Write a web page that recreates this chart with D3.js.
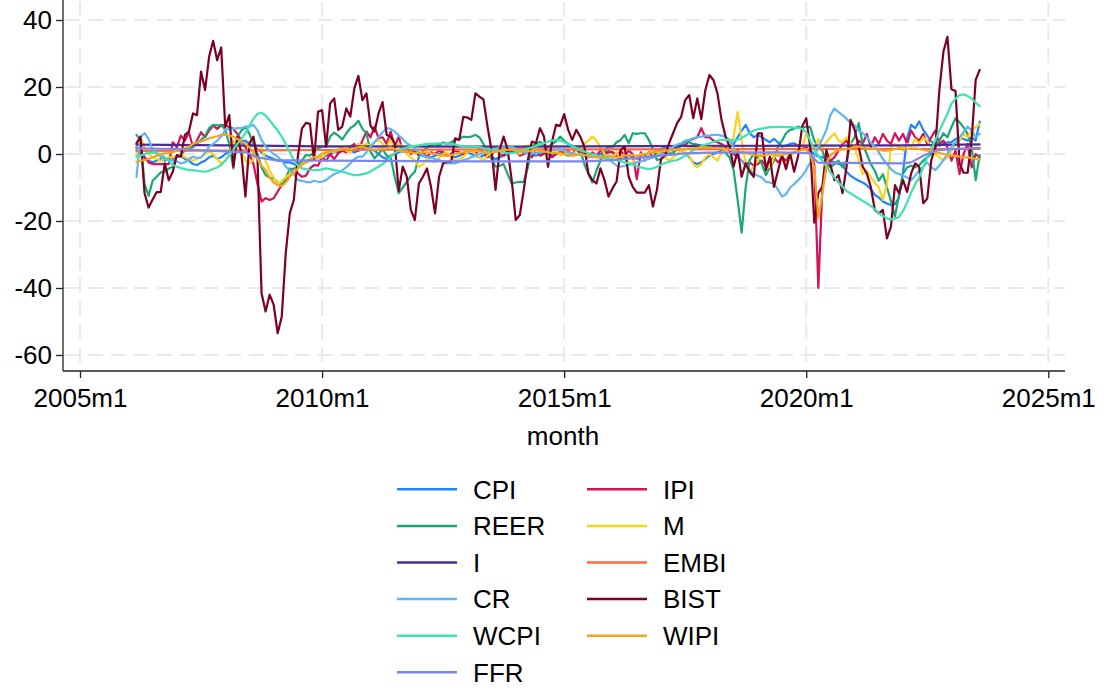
<!DOCTYPE html>
<html>
<head>
<meta charset="utf-8">
<script src="https://cdn.jsdelivr.net/npm/d3@7"></script>
<style>
  html, body { margin: 0; padding: 0; background: #fff; }
  svg { display: block; font-family: "Liberation Sans", Arial, Helvetica, sans-serif; }
</style>
</head>
<body>
<svg id="chart" width="1104" height="689"></svg>
<script>
// Monthly series, 2006m3 .. 2023m8 (one row per year)
const firstMonth = "2006m3";

const cpi = [
  1.2,0,-1,-2,-2.5,-2,-1.5,-2,-1,-1.5,
  -1,-0.5,-1.5,-2,-3,-3.3,-2.5,-2,-1,-0.5,-1.5,-1,
  0,0.5,2,3,3.5,4,3,2.5,1.5,0.5,-0.5,-1,
  -1.5,-2,-2,-2.5,-2.5,-3,-3.5,-3,-2.5,-2,-1.5,-1,
  -1,-0.5,0,0.5,0.5,1,1.5,1,0.5,1,1.5,2,
  1.5,1,0,-1,-1.5,-0.5,0,0.5,1,1.5,1,0.5,
  0,-0.5,-1,-1,-0.5,0,0.5,0,-0.5,-1,-0.5,0,
  0.5,0,-0.5,-1,-0.5,0,-1,-1.5,-1,-0.5,0,0.5,
  1,1.5,1,0.5,0,-0.5,0,0.5,0,-0.5,0,0.5,
  0,-0.5,0,1,0.5,0,-0.5,-1,-0.5,0,0.5,1,
  0.5,0,-0.5,-1,-0.5,-1,-1.5,-1,-0.5,0,0.5,1,
  1.5,2,2.5,2,1.5,1,0.5,-1,-2.5,-3,-2.5,-1.5,
  -0.5,0,0.5,1,1.5,2,3,5,7,8.7,6.2,5,
  5.7,5,4.2,3.5,4.5,3.5,2.2,2.5,3,3.2,2.5,2,
  1.5,1,0,-0.8,-1,-1.5,-2,-2.5,-3,-3.3,-5.3,-6.5,
  -7.3,-8,-8.5,-9.3,-10.5,-12.2,-13,-14.2,-14.8,-15.2,-15,-13,
  -5.3,4.7,8.7,7.7,9.7,7.2,5.5,3.7,3,2.5,3,3.5,
  3.5,4.5,5,4.5,4,5,4,9.7
];

const ipi = [
  2,1,-1,-2.5,-3,-3,-3,-3,-3,3.5,
  2,5.5,4,6.5,2,4,6.5,5,7,8.5,7.5,8.5,
  8.7,8,7.5,6,4,2,0,-3,-9,-14.2,-13.2,-13.7,
  -13.2,-11.2,-9.3,-8.3,-6.3,-4.3,-5.8,-6.8,-6.5,-4.3,-3.3,-3.5,
  -1,-2,0,-1.5,0.2,1,0.5,2.2,3,1,4,6.7,
  5,8.2,4.7,5,3,6.7,2.2,5.2,0.7,2,0,1,
  -0.5,0.5,-0.8,0.5,0,1,0.5,-0.5,0,1,0.5,0,
  0.5,1,0,1.5,0.5,-1,0,1,0,-0.5,1.5,0.5,
  1,-0.5,0,0.5,-1,1,-0.5,0,1,-1,0,0.5,
  0.5,1,-0.5,2,0,0.5,-1,0.5,-0.5,1,0,0.5,
  0.5,-1,1,-0.5,1,0,-7.5,0.5,-2,0.5,-1,0.5,
  1,0,1.5,1,2,3,2.5,4,4.5,5,7.7,5,
  5,4,3.5,3,2,1,0,-1,-2,-3,-2.5,-3.5,
  -3,-2,-3.5,-2,-1,-2.5,-1,-2,0,0.5,1,1.5,
  2,1,-3,-40,-10,-4,-2,-1,1,3,4,2,
  2,4,3,6,2,5,3,6,4,3,6.2,4,
  6,3,7,5,4,6,3,5,7,3,4,2,
  -2,1,-6,0,3,-4,0,-1
];

const reer = [
  5.7,4.2,-9,-12.5,-8,-6.8,-5.5,-5.3,-4.3,-3.8,
  -0.8,0,1,1.5,2.2,3,4.2,5.5,7.7,8.7,8.5,8.7,
  7.2,3,-4.3,5,7,8,6,3,0,-4,-6.3,-7,
  -7.3,-8.5,-9.3,-7.3,-4.3,-4.8,-3.5,-2,-0.3,-0.5,0.5,1.7,
  2.2,2.2,5.2,6.4,5.5,4.3,6.2,7.7,8.5,9.9,7.5,6.2,
  0.7,-1.3,0,1.5,-0.5,-1,-6.8,-11.7,-10,-8.3,-6.5,-5.3,
  -0.8,1,2,2.5,3,2.5,3.5,3,3.5,4.2,4.5,5.2,
  5,5.2,5.7,5,3,0.7,-1.5,-3.8,-3.5,-3,-6,-8.8,
  -8.5,-8.3,-8.3,-4,2.2,3,3.7,2.5,2,3,3.7,5.2,
  4,3,2.5,2,1,-3,-6,-8.5,-5,-2,1,2.2,
  2.2,3.5,4.2,5.7,3.2,6.2,6,6.2,6.2,4.2,1.5,-1.8,
  -1.5,-0.5,0.2,0.2,1.5,2.5,3.7,3.5,3,2.8,2.5,2.2,
  2.2,2.2,2,2,0.3,-1,-4.8,-13.7,-23.5,-9.8,-1.8,0,
  -1,-3,-6.3,-4,-2,2.2,4,6.2,7.2,7.5,8.2,7.7,
  8.2,8,4,2.2,1,-3,-4,-3,-2,-4,-2,3,
  5,9.2,3,0,-3,-5,-8,-6,-10,-14,-18.7,-12,
  -5.8,-4,-3.5,-4,-3.3,-2,-1,0,2,4,6.2,5,
  8,10.7,9.5,8,6,2,-7.8,-0.3
];

const money = [
  -1,5,2,0,-1,-1.5,-2,-1.5,-1,-1,
  -0.5,0,-1,-1.5,-2,-1.5,-1,0,1,0,-1.5,-2.8,
  -2,0,4,2,1,-2,-3,-1.5,1,2,-2,-5,
  -7,-9,-8,-7,-6,-5,-4,-3,-2.5,-2,-1.5,-1,
  -1,0,1,0.5,1.5,2,1,0.5,2,3,2.5,3,
  2.5,3.5,4.2,3,2,4.5,1.5,3,2,0,-1,-2,
  -3.8,-3,-1.5,-2,-2.5,-1,0,0.5,-1,-2,-1.5,-1,
  0.5,1,0,-1,-2,-0.5,0.5,1,0,2,2.5,1.5,
  1,0,2,2.5,2,1,0.5,1.5,1,0.5,1,-0.5,
  0,0.5,-0.5,1,2,3,4,5.2,4,2,0,-2,
  -1,0.5,-1.5,0,-3,-2.5,-1,0,-1.5,0,1,0.5,
  0,-1,-2,-1,0,1,0.5,-0.5,-3,-4,-3,-1,
  0,-1,-2,0.5,1,2,5,12.6,4,-3,-5,-3.8,
  -2,0,-2.5,-4,-1,0.5,-2,-3,-1,0.5,1.5,2,
  6,3.5,1,4.5,2,3.5,5,6.2,4,3.5,5,3.2,
  2,-2,-6,-5,-7,-8.5,-10,-13.7,-9,2,3,2,
  1,3,2,4.5,3,5,4,2,0,-1,-2,-1,
  1,3,4,6,5,7,8,9
];

const cr = [
  -6.8,5.2,6.2,4.5,1.2,0,-0.8,-1.5,-1.8,-2,
  -2.2,-2.8,-2.5,-1.5,-0.8,-1.2,-1,0.5,2.2,3,4,5.2,
  7.2,7.5,7.5,7.7,7.7,8.2,8.2,8.7,7,4.2,2.2,1,
  0,-0.8,-2,-3.8,-4.8,-6,-7.8,-8,-8.3,-8.5,-8,-8.3,
  -8.3,-7.8,-6.8,-6,-5.5,-4.8,-4,-2.8,-1.5,-0.8,-0.8,0.5,
  2.2,3.5,5,6.5,7.7,7.5,6.7,5.5,4.5,3.2,2.5,1.5,
  0.5,-0.3,-0.8,-1.2,-1.5,-1.8,-2.3,-2.8,-2.8,-2.8,-2.3,-1.8,
  -1.5,-1,-0.5,0,0.2,0.5,1.2,1.5,2,2.2,2.2,2.2,
  1.5,1,0.5,0.2,0.2,0.2,0.5,0.8,1,1.2,1.2,1.5,
  1,0.5,0,-0.2,-0.2,-0.5,-0.8,-0.8,-0.8,-1,-1.2,-1.5,
  -2.5,-3.5,-3.8,-3.5,-3.2,-3,-2.5,-2.2,-1.8,-1.5,-1,-0.5,
  0,0.2,1,2.2,2.8,3.2,4,4.2,4.7,5,5.2,5.5,
  5.5,5.7,5.7,5.5,5.2,4.2,2,-0.5,-2,-3.8,-4.8,-5.8,
  -6.5,-7,-8.3,-8.5,-8.8,-10.7,-12.7,-12,-10,-9,-7.8,-6.5,
  -4.8,-2.5,-0.8,2.2,4.5,7.2,11.6,13.6,12.5,11.6,10.5,9.2,
  8.5,7,6.2,5,3.5,2,0.5,-1.5,-3,-4.5,-5.5,-6,
  -6.5,-7,-7.8,-6.5,-5,-3.8,-2.5,-4,-4.8,-3.5,-1.8,0,
  2.2,3.5,5,6.5,8.2,7,5,6
];

const bist = [
  3.2,5.2,-11.7,-16,-13.6,-11.4,-11.4,-2.8,-7.8,-5.3,
  -0.3,-0.8,5.7,6.7,12.1,11.6,24.6,19.1,29,33.8,28,31.8,
  8,11.6,-3.8,5.2,0.3,-12.7,3.2,5.2,-1.8,-41.6,-47,-42,
  -45,-53.5,-48.6,-29.6,-17.7,-13.7,-0.8,7.6,9.3,9,-1.8,12.6,
  13.1,2.2,15.1,16.6,7.2,8.2,13.6,11.2,19.6,23.3,16.1,18.1,
  8.5,6.7,12.1,15.5,5.7,5.2,3.2,-11,-3.8,-6.8,-16.7,-19.7,
  -8.8,-6.8,-4.3,-9.8,-17.7,-6.8,-2.8,-2.3,-2.3,4.7,4.2,11.1,
  10.9,10.2,18.1,17.1,16.3,8.2,1.2,-10.7,1.2,5.2,1.2,-7.8,
  -19.7,-18.2,-10.7,-1.8,3.7,3.2,7.7,5.2,-3.8,3.7,8.7,8.4,
  11.9,7.2,4.2,7.2,5.2,2.2,-5.8,-7.8,-8.8,-4.3,-7.8,-12.7,
  -10.2,-8.2,1.2,2.2,-6.8,-9.8,-11.5,-11.5,-11.5,-9.3,-15.7,-10.7,
  -1.5,-0.5,3.2,6.2,9.2,11.1,16.1,17.6,10.7,16.6,10.4,19.1,
  23.6,22.1,18.1,10.2,5.2,2.2,-3.8,1,-6.8,-2.8,-5.3,-6.8,
  6.2,6.2,-4.8,-0.8,-9.8,-5,-0.3,-4.5,0.2,-5.3,-0.5,8.2,
  10.7,2,-20.5,-11.7,-9.8,1.2,-3.3,-7.8,-6.3,-11.7,-3.8,10.2,
  7.2,2.2,-3.8,-5.8,-9.8,-16.7,-17.7,-16.7,-25.2,-21.7,-9.3,-11.7,
  -7.8,-11.3,-5.8,-2.8,-3.8,-14.7,-13.3,-1.8,2,19.1,30.5,35,
  19.3,18.8,-2.8,-5.6,-5.6,4.2,22.1,25.1
];

const wcpi = [
  -0.8,-0.5,0,0.3,0.3,0.3,0,-1,-2,-3.3,
  -3.8,-4.2,-4.5,-4.8,-4.8,-5,-5.2,-5.3,-5,-4.5,-4,-3.3,
  -2,-0.5,1.2,3,4.5,6.2,8.5,10.5,12,12.3,11.5,10.1,
  8.5,7,5.2,3,0.5,-1.8,-3.5,-4.3,-4.5,-4.7,-4.8,-4.8,
  -4.6,-4.3,-4.5,-4.8,-5,-5.3,-5.6,-6,-6.3,-6.3,-6,-5.8,
  -5.2,-4.5,-3.8,-3,-2,-0.8,0.2,1.2,1.6,1.9,2.2,2.4,
  2.6,2.8,3,3,3.1,3.2,3.2,3.1,3,2.8,2.5,2.2,
  2.2,2.2,2.2,2.1,1.8,1.5,1.3,1.2,0.8,0.5,0.2,0.3,
  0.5,0.8,1.2,1.6,2,2.4,2.8,3.2,3.7,4,4.2,4,
  3.6,3,2.4,1.8,1.2,0.7,0.3,0,-0.4,-0.8,-1,-1.3,
  -1.6,-1.9,-2.2,-2.5,-2.8,-3.2,-3.6,-4,-4.3,-4.5,-4.3,-3.8,
  -3.2,-2.7,-2.3,-2,-1.8,-1.2,-0.5,0.3,1,1.7,2.3,2.8,
  3.2,3.6,4,4.2,4.3,4.2,4,4.2,4.8,5.5,6.3,7,
  7.4,7.6,7.8,8,8,8.1,8.1,8,8,7.9,7.8,7.5,
  6.5,4,1.2,-0.5,-2,-3.8,-5.5,-7,-8.5,-9.8,-11,-11.8,
  -12.5,-13.3,-14,-14.7,-15.5,-16.5,-17.7,-18.5,-19.2,-19.5,-19.3,-18.8,
  -17,-14.5,-11.5,-9,-7,-4,-1,1.5,4,7,9.5,12,
  15,16.5,17.6,17.8,17.3,16.6,15.3,14.3
];

const wipi = [
  -2.3,-2,-1.8,-1.5,-1,-0.5,0,0.2,0.3,0.5,
  1,1.5,1.7,2.2,3,3.5,3.7,4.2,4.7,5,5.3,5.7,
  5.7,5.5,5.2,4.5,3.7,3,2,0.3,-1.5,-3.5,-4.8,-7,
  -8.5,-9.3,-9.5,-8.5,-6.8,-5.5,-4.3,-3.3,-2.3,-1.5,-1,-0.8,
  0,0.5,0.7,1,1.2,1.5,1.7,1.5,1.7,2,2.2,1.8,
  1.5,1.2,1.5,1.5,1.7,2,1.5,1,0.8,0.5,0.5,0.3,
  0.3,0.5,0.5,0.2,0,-0.3,-0.5,-0.5,-0.3,0,0.3,0.5,
  0.8,1,1,0.8,0.5,0.5,0.5,0.8,1,1.2,1.2,1.5,
  1.2,1,1,0.8,1,1.2,1,0.8,0.5,0.3,0.3,0.3,
  0,-0.3,-0.5,-0.3,0,-0.3,-0.5,-0.8,-1,-1,-0.8,-0.5,
  -0.8,-1,-0.8,-0.5,-0.5,-0.3,-0.5,-0.3,0,0.3,0.5,0.8,
  0.8,1,1,1.2,1.2,1.5,1.5,1.7,1.7,1.8,2,2,
  2,1.8,1.8,1.7,1.5,1.3,1,0.8,0.5,0.3,0,-0.3,
  -0.5,-0.5,-0.3,0,-0.3,-0.5,-0.3,0,0.3,0.5,0.8,1.2,
  1.2,0,-4,-19.2,-12,-3.3,-0.3,0.5,1.2,1.3,1.5,1.7,
  2.2,2.2,2,1.7,1.7,1.5,1.2,1,1,1.2,1.5,1.7,
  1.7,1.5,1.5,1.7,1.5,1.2,1,0.8,0.5,0.3,0,-0.3,
  -0.5,-0.5,-0.8,-1,-1,-1.2,-1.5,-1.6
];

// Slow-moving series, recorded at their turning dates
const iDates   = ["2006m3","2008m1","2010m1","2014m1","2018m1","2020m1","2022m1","2023m8"];
const iVals    = [2.8, 2.6, 2.3, 2.2, 2.4, 2.5, 2.6, 2.9];
const embiDates = ["2006m3","2010m1","2015m1","2020m1","2023m8"];
const embiVals  = [0.9, 1.2, 1.4, 1.5, 1.5];
const ffrDates = ["2006m3","2007m1","2008m1","2008m6","2008m9","2009m1","2010m1","2013m1","2015m6",
                  "2016m1","2017m1","2017m7","2018m1","2019m6","2020m1","2020m2","2020m3","2020m4",
                  "2022m1","2022m3","2022m6","2022m9","2023m1","2023m8"];
const ffrVals  = [1.7, 1.5, 0.8, 0.5, -1.0, -1.8, -2.0, -2.2, -2.2,
                  -1.8, -0.5, 0.2, 0.4, 0.5, 0.3, 0.2, -1.5, -2.6,
                  -2.8, -2.5, -0.5, 1.0, 1.5, 1.8];

const yTicks = [-60, -40, -20, 0, 20, 40];
const xTickLabels = ["2005m1", "2010m1", "2015m1", "2020m1", "2025m1"];

// ---- helpers ----
function monthIndex(s) {            // months since 2005m1
  const [yr, mo] = s.split("m").map(Number);
  return (yr - 2005) * 12 + (mo - 1);
}
const start = monthIndex(firstMonth);
const monthly = vals => vals.map((v, i) => ({ t: start + i, v }));
const dated = (dates, vals) => dates.map((d, i) => ({ t: monthIndex(d), v: vals[i] }));

// drawing order and legend order (row-wise, two columns)
const series = [
  { name: "CPI",  color: "#1a85ff", data: monthly(cpi) },
  { name: "IPI",  color: "#d41159", data: monthly(ipi) },
  { name: "REER", color: "#1aa872", data: monthly(reer) },
  { name: "M",    color: "#f8d41c", data: monthly(money) },
  { name: "I",    color: "#4b2c95", data: dated(iDates, iVals) },
  { name: "EMBI", color: "#ff6a3d", data: dated(embiDates, embiVals) },
  { name: "CR",   color: "#60b6f0", data: monthly(cr) },
  { name: "BIST", color: "#7d0022", data: monthly(bist) },
  { name: "WCPI", color: "#3ee2b4", data: monthly(wcpi) },
  { name: "WIPI", color: "#f2a422", data: monthly(wipi) },
  { name: "FFR",  color: "#7b86ee", data: dated(ffrDates, ffrVals) }
];

// ---- layout ----
const FONT = "'Liberation Sans', Arial, Helvetica, sans-serif";
const FS = 26;
const svg = d3.select("#chart");
const plot = { left: 63, right: 1065, top: 2, bottom: 371 };

const x = d3.scaleLinear().domain([0, 240]).range([80, 1048.3]);
const y = d3.scaleLinear().domain([-60, 40]).range([355, 20]);

svg.append("rect").attr("width", 1104).attr("height", 689).attr("fill", "#fff");

// grid
const grid = svg.append("g").attr("stroke", "#e9e9e9").attr("stroke-width", 2)
  .attr("stroke-dasharray", "15,8");
grid.selectAll("line.h").data(yTicks).join("line")
  .attr("x1", plot.left + 2).attr("x2", plot.right)
  .attr("y1", d => y(d)).attr("y2", d => y(d));
grid.selectAll("line.v").data(xTickLabels).join("line")
  .attr("x1", d => x(monthIndex(d))).attr("x2", d => x(monthIndex(d)))
  .attr("y1", plot.top).attr("y2", plot.bottom - 1);

// series
const line = d3.line().x(d => x(d.t)).y(d => y(d.v));
svg.append("g").attr("fill", "none").attr("stroke-width", 2.2)
  .attr("stroke-linejoin", "round").attr("stroke-linecap", "round")
  .selectAll("path").data(series).join("path")
  .attr("stroke", d => d.color)
  .attr("d", d => line(d.data));

// axes
const yAxis = d3.axisLeft(y).tickValues(yTicks).tickSize(7).tickPadding(4).tickFormat(d => String(d));
const gy = svg.append("g").attr("transform", `translate(${plot.left},0)`).call(yAxis);
gy.select(".domain").remove();
gy.selectAll(".tick line").attr("stroke", "#222").attr("stroke-width", 1.3);
gy.selectAll(".tick text").attr("font-size", FS).attr("fill", "#000").attr("font-family", FONT);

const xAxis = d3.axisBottom(x).tickValues(xTickLabels.map(monthIndex)).tickSize(7).tickPadding(11)
  .tickFormat((d, i) => xTickLabels[i]);
const gx = svg.append("g").attr("transform", `translate(0,${plot.bottom})`).call(xAxis);
gx.select(".domain").remove();
gx.selectAll(".tick line").attr("stroke", "#222").attr("stroke-width", 1.3);
gx.selectAll(".tick text").attr("font-size", FS).attr("fill", "#000").attr("font-family", FONT);

svg.append("line").attr("x1", plot.left).attr("x2", plot.left)
  .attr("y1", plot.top - 2).attr("y2", plot.bottom).attr("stroke", "#222").attr("stroke-width", 1.3);
svg.append("line").attr("x1", plot.left).attr("x2", plot.right)
  .attr("y1", plot.bottom).attr("y2", plot.bottom).attr("stroke", "#222").attr("stroke-width", 1.3);

svg.append("text").attr("x", 563).attr("y", 445).attr("text-anchor", "middle")
  .attr("font-size", FS).attr("font-family", FONT).attr("fill", "#000").text("month");

// legend
const leg = svg.append("g");
const colX = [397, 587], rowY0 = 489.3, rowStep = 36.6;
const item = leg.selectAll("g").data(series).join("g")
  .attr("transform", (d, i) => `translate(${colX[i % 2]},${rowY0 + Math.floor(i / 2) * rowStep})`);
item.append("line").attr("x1", 0).attr("x2", 60).attr("y1", 0).attr("y2", 0)
  .attr("stroke", d => d.color).attr("stroke-width", 2.5);
item.append("text").attr("x", 76).attr("y", 0).attr("dy", "0.36em")
  .attr("font-size", FS).attr("font-family", FONT).attr("fill", "#000").text(d => d.name);
</script>
</body>
</html>
